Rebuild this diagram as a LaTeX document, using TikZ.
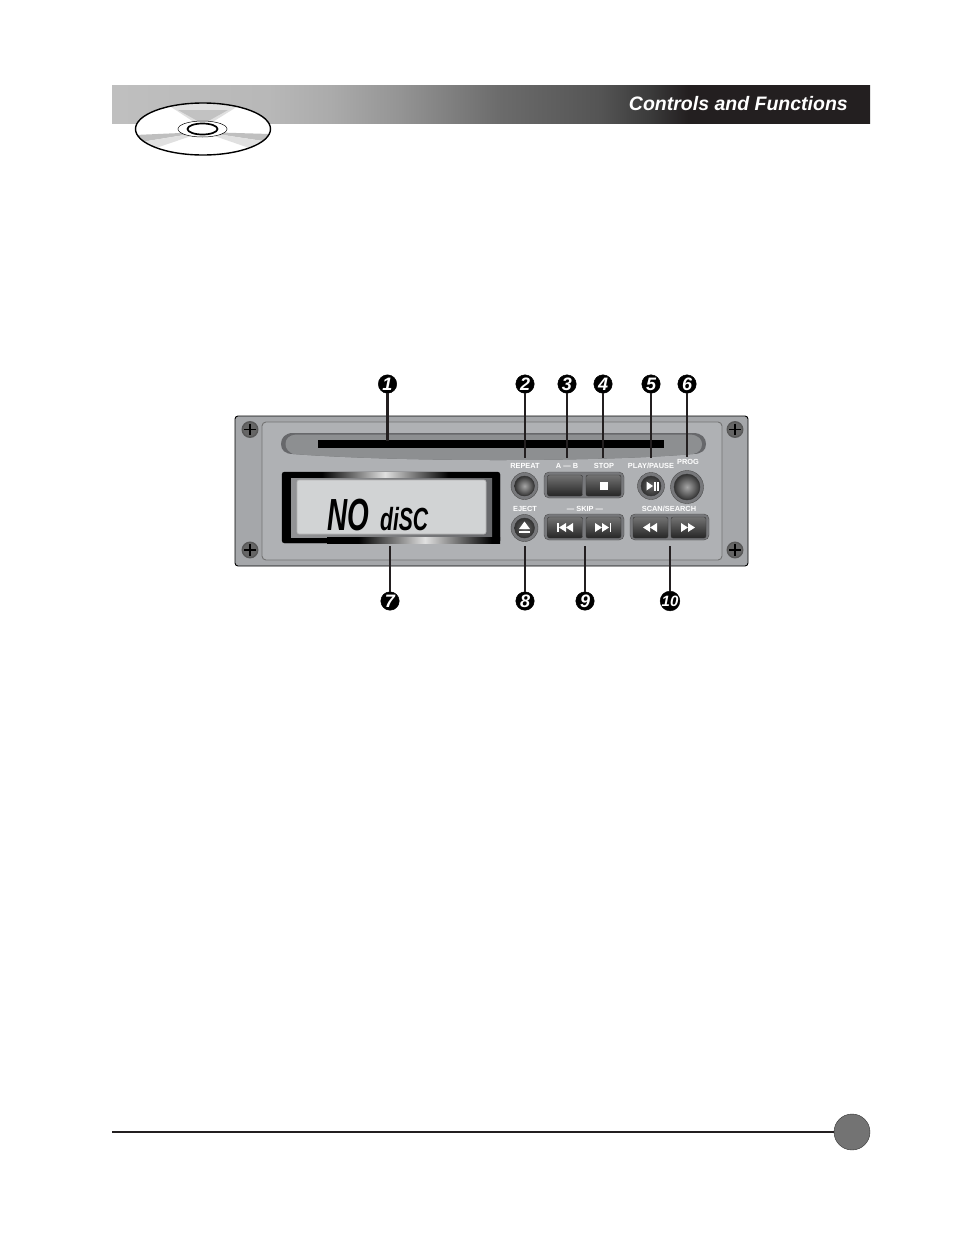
\documentclass[tikz,border=0pt]{standalone}
\usepackage{fontspec}
\setmainfont{Liberation Sans}
\definecolor{inkblack}{HTML}{231F20}
\definecolor{panelgrey}{HTML}{A5A7AA}
\definecolor{faceplate}{HTML}{AFB1B4}
\definecolor{slotgrey}{HTML}{8D8F91}
\definecolor{slotdark}{HTML}{67686B}
\definecolor{screengrey}{HTML}{D1D3D4}
\definecolor{ringgrey}{HTML}{77787B}
\pgfdeclarehorizontalshading{headbar}{100bp}{color(0bp)=(black!25); color(25bp)=(black!25); color(35.4bp)=(black!28); color(39.4bp)=(black!33); color(44bp)=(black!42); color(50.6bp)=(black!58); color(57.2bp)=(black!67); color(60.5bp)=(black!77); color(63bp)=(inkblack); color(100bp)=(inkblack)}
\pgfdeclarehorizontalshading{stripa}{100bp}{color(0bp)=(black); color(33bp)=(black); color(50bp)=(black!12); color(67bp)=(black); color(100bp)=(black)}
\begin{document}
\begin{tikzpicture}[x=1pt,y=-1pt]
\tikzset{tinum/.style={draw=black, fill=black, circle, minimum size=18.5pt, inner sep=0pt, text=white, font=\fontsize{18}{18}\selectfont\itshape\bfseries}}
\tikzset{tilab/.style={inner sep=0pt, text=white, font=\fontsize{7.4}{8}\selectfont\bfseries}}
\tikzset{tiring/.style={draw=black!70, fill=ringgrey, circle, inner sep=0pt}}
\tikzset{tiknob/.style={draw=black!80, circle, inner sep=0pt, inner color=black!45, outer color=black!80}}
\tikzset{tikey/.style={draw=black!80, rectangle, rounded corners=2pt, inner sep=0pt, minimum width=35pt, minimum height=21pt, top color=black!55, bottom color=black!85}}
\tikzset{tigroup/.style={draw=black!70, fill=ringgrey, rectangle, rounded corners=5pt, inner sep=0pt, minimum height=26pt}}
\tikzset{tiscrew/.style={draw=black!65, fill=black!60, line width=1.4pt, circle, inner sep=0pt, minimum size=15.5pt}}
\tikzset{ticross/.style={draw=black, line width=1.6pt, shorten >=2.5pt, shorten <=2.5pt}}
\tikzset{tilead/.style={draw=inkblack, line width=2.3pt}}
\useasboundingbox (0,0) rectangle (954,1235);
\shade[shading=headbar] (112,85) rectangle (870,123);
\node[anchor=base east, inner sep=0pt, text=white, font=\fontsize{19.5}{20}\selectfont\itshape\bfseries] (title) at (848,110) {Controls and Functions};
\fill[white] (203,129) ellipse [x radius=67.5, y radius=26];
\begin{scope}
\clip (203,129) ellipse [x radius=67.5, y radius=26];
\fill[black!12] (203,128) -- (165,103) -- (243,103) -- cycle;
\fill[black!24] (203,124) -- (178,110) -- (228,110) -- cycle;
\fill[black!25] (203,132) -- (135,135) -- (135,143) -- cycle;
\fill[black!12] (203,132) -- (135,143) -- (150,150) -- cycle;
\fill[black!25] (203,132) -- (270,134) -- (270,142) -- cycle;
\fill[black!12] (203,132) -- (270,142) -- (255,150) -- cycle;
\end{scope}
\draw[black, line width=1.4pt] (203,129) ellipse [x radius=67.5, y radius=26];
\draw[fill=white, line width=0.5pt] (202.5,129) ellipse [x radius=24.5, y radius=8];
\draw[fill=white, line width=1.7pt] (202.5,129) ellipse [x radius=15, y radius=5.5];
\draw[fill=panelgrey, draw=black, line width=0.9pt, rounded corners=3pt] (235,416) rectangle (748,566);
\draw[fill=faceplate, draw=black!55, line width=0.9pt, rounded corners=4pt] (262,422) rectangle (722,560);
\fill[slotdark] (293,433) -- (693,433) .. controls (702,433) and (706,438) .. (706,444) .. controls (706,450) and (702,454) .. (693,454) .. controls (600,462) and (400,462) .. (293,454) .. controls (285,454) and (281,450) .. (281,444) .. controls (281,438) and (285,433) .. (293,433) -- cycle;
\fill[slotgrey] (296,434.5) -- (690,434.5) .. controls (699,435) and (702,440) .. (702,444) .. controls (702,449) and (699,453) .. (693,454) .. controls (600,462) and (400,462) .. (293,454) .. controls (289,452) and (285.5,449) .. (285.5,444) .. controls (285.5,439) and (289,435) .. (296,434.5) -- cycle;
\fill[black] (318,440) rectangle (664,448);
\draw[fill=black, draw=black, rounded corners=2.5pt] (282,472) rectangle (500,543);
\shade[shading=stripa] (292,472) rectangle (478,478);
\shade[left color=ringgrey!80!white, right color=slotdark] (291,478) rectangle (492,537);
\begin{scope}
\clip (282,472) rectangle (500,543);
\shade[shading=stripa] (327,537) rectangle (523,543);
\end{scope}
\draw[fill=screengrey, draw=white!70!black, line width=0.6pt, rounded corners=2pt] (297,480) rectangle (486,534);
\node[anchor=base west, inner sep=0pt, xscale=.62, transform shape, font=\fontsize{45}{45}\selectfont\itshape\bfseries] (nolab) at (327,530) {NO};
\node[anchor=base west, inner sep=0pt, xscale=.66, transform shape, font=\fontsize{32}{32}\selectfont\itshape\bfseries] (disclab) at (380,530) {diSC};
\node[tiscrew] (S1) at (250,429.5) {};
\node[tiscrew] (S2) at (250,550) {};
\node[tiscrew] (S3) at (735,429.5) {};
\node[tiscrew] (S4) at (735,550) {};
\draw[ticross] (S1.west) -- (S1.east);
\draw[ticross] (S1.north) -- (S1.south);
\draw[ticross] (S2.west) -- (S2.east);
\draw[ticross] (S2.north) -- (S2.south);
\draw[ticross] (S3.west) -- (S3.east);
\draw[ticross] (S3.north) -- (S3.south);
\draw[ticross] (S4.west) -- (S4.east);
\draw[ticross] (S4.north) -- (S4.south);
\node[tilab] (L2) at (525,466) {REPEAT};
\node[tilab] (L3) at (567,466) {A — B};
\node[tilab] (L4) at (604,466) {STOP};
\node[tilab] (L5) at (651,466) {PLAY/PAUSE};
\node[tilab] (L6) at (688,462) {PROG};
\node[tilab] (L8) at (525,509) {EJECT};
\node[tilab] (L9) at (585,509) {— SKIP —};
\node[tilab] (L10) at (669,509) {SCAN/SEARCH};
\node[tiring, minimum size=27pt] (R2) at (524.5,486) {};
\node[tiknob, minimum size=20pt, inner color=black!35] (B2) at (524.5,486) {};
\node[tiring, minimum size=27pt] (R5) at (651,486) {};
\node[tiknob, minimum size=20pt, inner color=black!60] (B5) at (651,486) {};
\node[tiring, minimum size=33pt] (R6) at (687,487) {};
\node[tiknob, minimum size=26pt, inner color=black!35] (B6) at (687,487) {};
\node[tiring, minimum size=27pt] (R8) at (524.5,528) {};
\node[tiknob, minimum size=20pt, inner color=black!60] (B8) at (524.5,528) {};
\node[tigroup, minimum width=80pt] (G1) at (584,485) {};
\node[tikey] (K3) at (565,485.5) {};
\node[tikey] (K4) at (603.5,485.5) {};
\node[tigroup, minimum width=80pt] (G2) at (584,527) {};
\node[tikey] (K9a) at (565,527.5) {};
\node[tikey] (K9b) at (603.5,527.5) {};
\node[tigroup, minimum width=79pt] (G3) at (669.5,527) {};
\node[tikey] (K10a) at (650.5,527.5) {};
\node[tikey] (K10b) at (688.5,527.5) {};
\fill[white] (600,482) rectangle (608,490);
\fill[white] (646.5,481.5) -- (653,486) -- (646.5,490.5) -- cycle;
\fill[white] (654,481.5) rectangle (655.5,490.5);
\fill[white] (657,481.5) rectangle (658.5,490.5);
\fill[white] (524.5,521.5) -- (530,529) -- (519,529) -- cycle;
\fill[white] (519,530.5) rectangle (530,533);
\fill[white] (557,523) rectangle (558.5,532);
\fill[white] (559,527.5) -- (566,523) -- (566,532) -- cycle;
\fill[white] (566,527.5) -- (573,523) -- (573,532) -- cycle;
\fill[white] (595,523) -- (602,527.5) -- (595,532) -- cycle;
\fill[white] (602,523) -- (609,527.5) -- (602,532) -- cycle;
\fill[white] (609.5,523) rectangle (611,532);
\fill[white] (643,527.5) -- (650,523) -- (650,532) -- cycle;
\fill[white] (650,527.5) -- (657,523) -- (657,532) -- cycle;
\fill[white] (681,523) -- (688,527.5) -- (681,532) -- cycle;
\fill[white] (688,523) -- (695,527.5) -- (688,532) -- cycle;
\node[tinum] (N1) at (387.5,384) {1};
\node[tinum] (N2) at (525,384) {2};
\node[tinum] (N3) at (567,384) {3};
\node[tinum] (N4) at (603,384) {4};
\node[tinum] (N5) at (651,384) {5};
\node[tinum] (N6) at (687,384) {6};
\node[tinum] (N7) at (390,601) {7};
\node[tinum] (N8) at (525,601) {8};
\node[tinum] (N9) at (585,601) {9};
\node[tinum, font=\fontsize{15}{15}\selectfont\itshape\bfseries] (N10) at (670,601) {10};
\coordinate (E1) at (387.5,441);
\coordinate (E2) at (525,458);
\coordinate (E3) at (567,458);
\coordinate (E4) at (603,458);
\coordinate (E5) at (651,458);
\coordinate (E6) at (687,457);
\coordinate (E7) at (390,546);
\coordinate (E8) at (525,546);
\coordinate (E9) at (585,546);
\coordinate (E10) at (670,546);
\draw[tilead] (N1) -- (E1);
\draw[tilead] (N2) -- (E2);
\draw[tilead] (N3) -- (E3);
\draw[tilead] (N4) -- (E4);
\draw[tilead] (N5) -- (E5);
\draw[tilead] (N6) -- (E6);
\draw[tilead] (N7) -- (E7);
\draw[tilead] (N8) -- (E8);
\draw[tilead] (N9) -- (E9);
\draw[tilead] (N10) -- (E10);
\node[draw=black!80, fill=black!55, circle, minimum size=36pt, inner sep=0pt] (P) at (852,1132) {};
\coordinate (F) at (112,1132);
\draw[tilead] (F) -- (P);
\end{tikzpicture}
\end{document}
